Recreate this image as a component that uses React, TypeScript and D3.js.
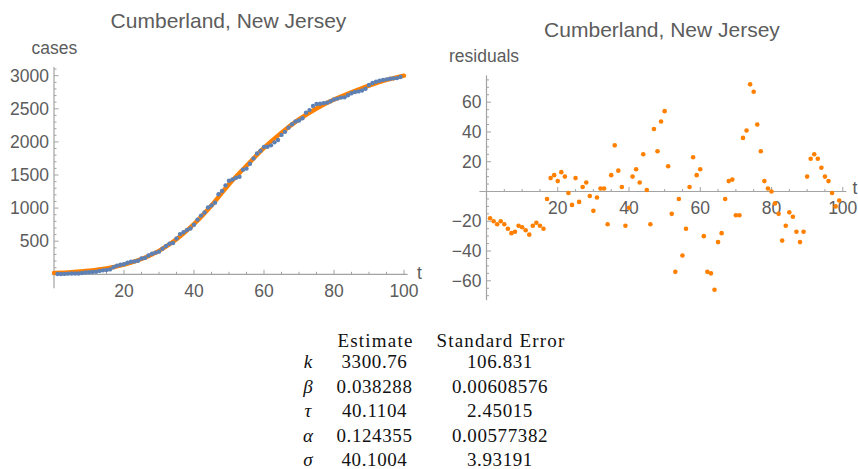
import React from 'react';
import * as d3 from 'd3';

const TITLE = 'Cumberland, New Jersey';
const FIRST_DAY = 1;

const cases = [
  5, 5, 6, 10, 11, 12, 13, 19, 27, 30,
  35, 39, 51, 60, 65, 74, 106, 131, 145, 152,
  175, 189, 195, 204, 239, 248, 283, 311, 327, 342,
  386, 427, 462, 473, 541, 607, 636, 671, 691, 749,
  826, 887, 934, 1009, 1041, 1082, 1210, 1259, 1343, 1414,
  1433, 1457, 1474, 1579, 1597, 1669, 1751, 1825, 1867, 1925,
  1926, 1948, 1993, 2028, 2106, 2152, 2215, 2267, 2308, 2324,
  2357, 2442, 2480, 2544, 2572, 2577, 2586, 2593, 2615, 2640,
  2654, 2669, 2673, 2705, 2736, 2753, 2763, 2776, 2803, 2860,
  2889, 2909, 2923, 2934, 2945, 2955, 2960, 2964, 2981,
];

const residuals = [
  -18, -20, -22, -20, -22, -25, -28, -27, -23, -24,
  -26, -29, -23, -21, -23, -25, -5, 9, 11, 7,
  13, 10, -1, -9, 9, -7, 3, 6, -3, -13,
  -4, 2, 2, -22, 11, 31, 14, 3, -23, -11,
  10, 15, 6, 25, 1, -22, 42, 27, 47, 54,
  17, -15, -54, -5, -43, -25, 3, 23, 11, 15,
  -30, -54, -55, -66, -34, -28, -5, 7, 8, -16,
  -16, 36, 41, 72, 67, 45, 27, 7, 2, 0,
  -8, -15, -33, -23, -14, -17, -27, -34, -27, 10,
  22, 25, 22, 16, 10, 7, -1, -10, -6,
];

const fitDays = [0, 5, 10, 15, 20, 25, 30, 35, 40, 45, 50, 55, 60, 65, 70, 75, 80, 85, 90, 95, 100];
const fitCases = [20, 33, 54, 88, 145, 230, 355, 530, 760, 1040, 1360, 1640, 1910, 2140, 2340, 2505, 2640, 2750, 2850, 2935, 3000];

const leftXTicks = [20, 40, 60, 80, 100];
const leftYTicks = [500, 1000, 1500, 2000, 2500, 3000];
const rightXTicks = [20, 40, 60, 80, 100];
const rightYTicks = [-60, -40, -20, 20, 40, 60];

const paramNames = ['k', 'β', 'τ', 'α', 'σ'];
const estimates = ['3300.76', '0.038288', '40.1104', '0.124355', '40.1004'];
const stdErrors = ['106.831', '0.00608576', '2.45015', '0.00577382', '3.93191'];

const BLUE = '#5E81B5';
const ORANGE = '#FF8000';
const AXIS = '#a3a3a3';
const LABEL = '#5c5c5c';
const SANS = '"Liberation Sans", Arial, Helvetica, sans-serif';
const SERIF = '"Liberation Serif", "Times New Roman", serif';

function fmt(v: number) {
  return v < 0 ? '\u2212' + Math.abs(v) : String(v);
}

export default function App() {
  // Left panel scales
  const xL = d3.scaleLinear().domain([0, 100]).range([54, 404]);
  const yL = d3.scaleLinear().domain([0, 3000]).range([274.3, 75.7]);
  // Right panel scales
  const xR = d3.scaleLinear().domain([0, 100]).range([486.5, 842.75]);
  const yR = d3.scaleLinear().domain([-60, 60]).range([280.8, 102.2]);

  const fitLine = d3
    .line<number>()
    .x((_, i) => xL(fitDays[i]))
    .y((d) => yL(d))
    .curve(d3.curveMonotoneX);

  const leftXMinor = d3.range(5, 101, 5).filter((v) => v % 20 !== 0);
  const leftYMinor = d3.range(100, 3101, 100).filter((v) => v % 500 !== 0);
  const rightXMinor = d3.range(5, 101, 5).filter((v) => v % 20 !== 0);
  const rightYMinor = d3.range(-70, 76, 5).filter((v) => v % 20 !== 0 && v !== 0);

  const tickFont = 17.5;

  return (
    <svg
      width={858}
      height={469}
      style={{ position: 'absolute', left: 0, top: 0, background: '#fff' }}
      fontFamily={SANS}
    >
      {/* ---------- Left panel ---------- */}
      <text x={228.5} y={28} textAnchor="middle" fontSize={21} fill={LABEL}>
        {TITLE}
      </text>
      <text x={31.5} y={53.5} fontSize={17.5} fill={LABEL}>
        cases
      </text>

      {/* axes */}
      <line x1={xL(-0.6)} x2={xL(101)} y1={yL(0)} y2={yL(0)} stroke={AXIS} strokeWidth={1.2} />
      <line x1={xL(0)} x2={xL(0)} y1={yL(3130)} y2={yL(-210)} stroke={AXIS} strokeWidth={1.2} />
      {leftXTicks.map((t) => (
        <g key={'lx' + t}>
          <line x1={xL(t)} x2={xL(t)} y1={yL(0)} y2={yL(0) - 4.5} stroke={AXIS} />
          <text x={xL(t)} y={yL(0) + 22.5} textAnchor="middle" fontSize={tickFont} fill={LABEL}>
            {fmt(t)}
          </text>
        </g>
      ))}
      {leftXMinor.map((t) => (
        <line key={'lxm' + t} x1={xL(t)} x2={xL(t)} y1={yL(0)} y2={yL(0) - 2.5} stroke={AXIS} />
      ))}
      {leftYTicks.map((v) => (
        <g key={'ly' + v}>
          <line x1={xL(0)} x2={xL(0) + 4.5} y1={yL(v)} y2={yL(v)} stroke={AXIS} />
          <text x={xL(0) - 5} y={yL(v) + 6} textAnchor="end" fontSize={tickFont} fill={LABEL}>
            {fmt(v)}
          </text>
        </g>
      ))}
      {leftYMinor.map((v) => (
        <line key={'lym' + v} x1={xL(0)} x2={xL(0) + 2.5} y1={yL(v)} y2={yL(v)} stroke={AXIS} />
      ))}
      <text x={417} y={278.5} fontSize={tickFont} fill={LABEL}>
        t
      </text>

      {/* fitted curve */}
      <path d={fitLine(fitCases) || ''} fill="none" stroke={ORANGE} strokeWidth={4.4} strokeLinecap="round" />
      {/* data */}
      {cases.map((c, i) => (
        <circle key={'c' + i} cx={xL(FIRST_DAY + i)} cy={yL(c)} r={2.2} fill={BLUE} />
      ))}

      {/* ---------- Right panel ---------- */}
      <text x={662} y={37} textAnchor="middle" fontSize={21} fill={LABEL}>
        {TITLE}
      </text>
      <text x={449} y={61.5} fontSize={17.5} fill={LABEL}>
        residuals
      </text>

      <line x1={xR(-2)} x2={xR(101)} y1={yR(0)} y2={yR(0)} stroke={AXIS} strokeWidth={1.2} />
      <line x1={xR(0)} x2={xR(0)} y1={yR(78)} y2={yR(-73)} stroke={AXIS} strokeWidth={1.2} />
      {rightXTicks.map((t) => (
        <g key={'rx' + t}>
          <line x1={xR(t)} x2={xR(t)} y1={yR(0)} y2={yR(0) - 4.5} stroke={AXIS} />
          <text x={xR(t)} y={yR(0) + 22.5} textAnchor="middle" fontSize={tickFont} fill={LABEL}>
            {fmt(t)}
          </text>
        </g>
      ))}
      {rightXMinor.map((t) => (
        <line key={'rxm' + t} x1={xR(t)} x2={xR(t)} y1={yR(0)} y2={yR(0) - 2.5} stroke={AXIS} />
      ))}
      {rightYTicks.map((v) => (
        <g key={'ry' + v}>
          <line x1={xR(0)} x2={xR(0) + 4.5} y1={yR(v)} y2={yR(v)} stroke={AXIS} />
          <text x={xR(0) - 5} y={yR(v) + 6} textAnchor="end" fontSize={tickFont} fill={LABEL}>
            {fmt(v)}
          </text>
        </g>
      ))}
      {rightYMinor.map((v) => (
        <line key={'rym' + v} x1={xR(0)} x2={xR(0) + 2.5} y1={yR(v)} y2={yR(v)} stroke={AXIS} />
      ))}
      <text x={852.5} y={193.5} fontSize={tickFont} fill={LABEL}>
        t
      </text>
      {residuals.map((r, i) => (
        <circle key={'r' + i} cx={xR(FIRST_DAY + i)} cy={yR(r)} r={2.3} fill={ORANGE} />
      ))}

      {/* ---------- Parameter table ---------- */}
      <g fontFamily={SERIF} fontSize={19} fill="#111">
        <text x={375.5} y={346.5} textAnchor="middle" letterSpacing={1.2}>
          Estimate
        </text>
        <text x={501} y={346.5} textAnchor="middle" letterSpacing={1.2}>
          Standard Error
        </text>
        {paramNames.map((p, i) => (
          <g key={'p' + i}>
            <text x={308} y={368 + i * 24.5} textAnchor="middle" fontStyle="italic">
              {p}
            </text>
            <text x={374.5} y={368 + i * 24.5} textAnchor="middle" letterSpacing={0.6}>
              {estimates[i]}
            </text>
            <text x={500} y={368 + i * 24.5} textAnchor="middle" letterSpacing={0.6}>
              {stdErrors[i]}
            </text>
          </g>
        ))}
      </g>
    </svg>
  );
}
